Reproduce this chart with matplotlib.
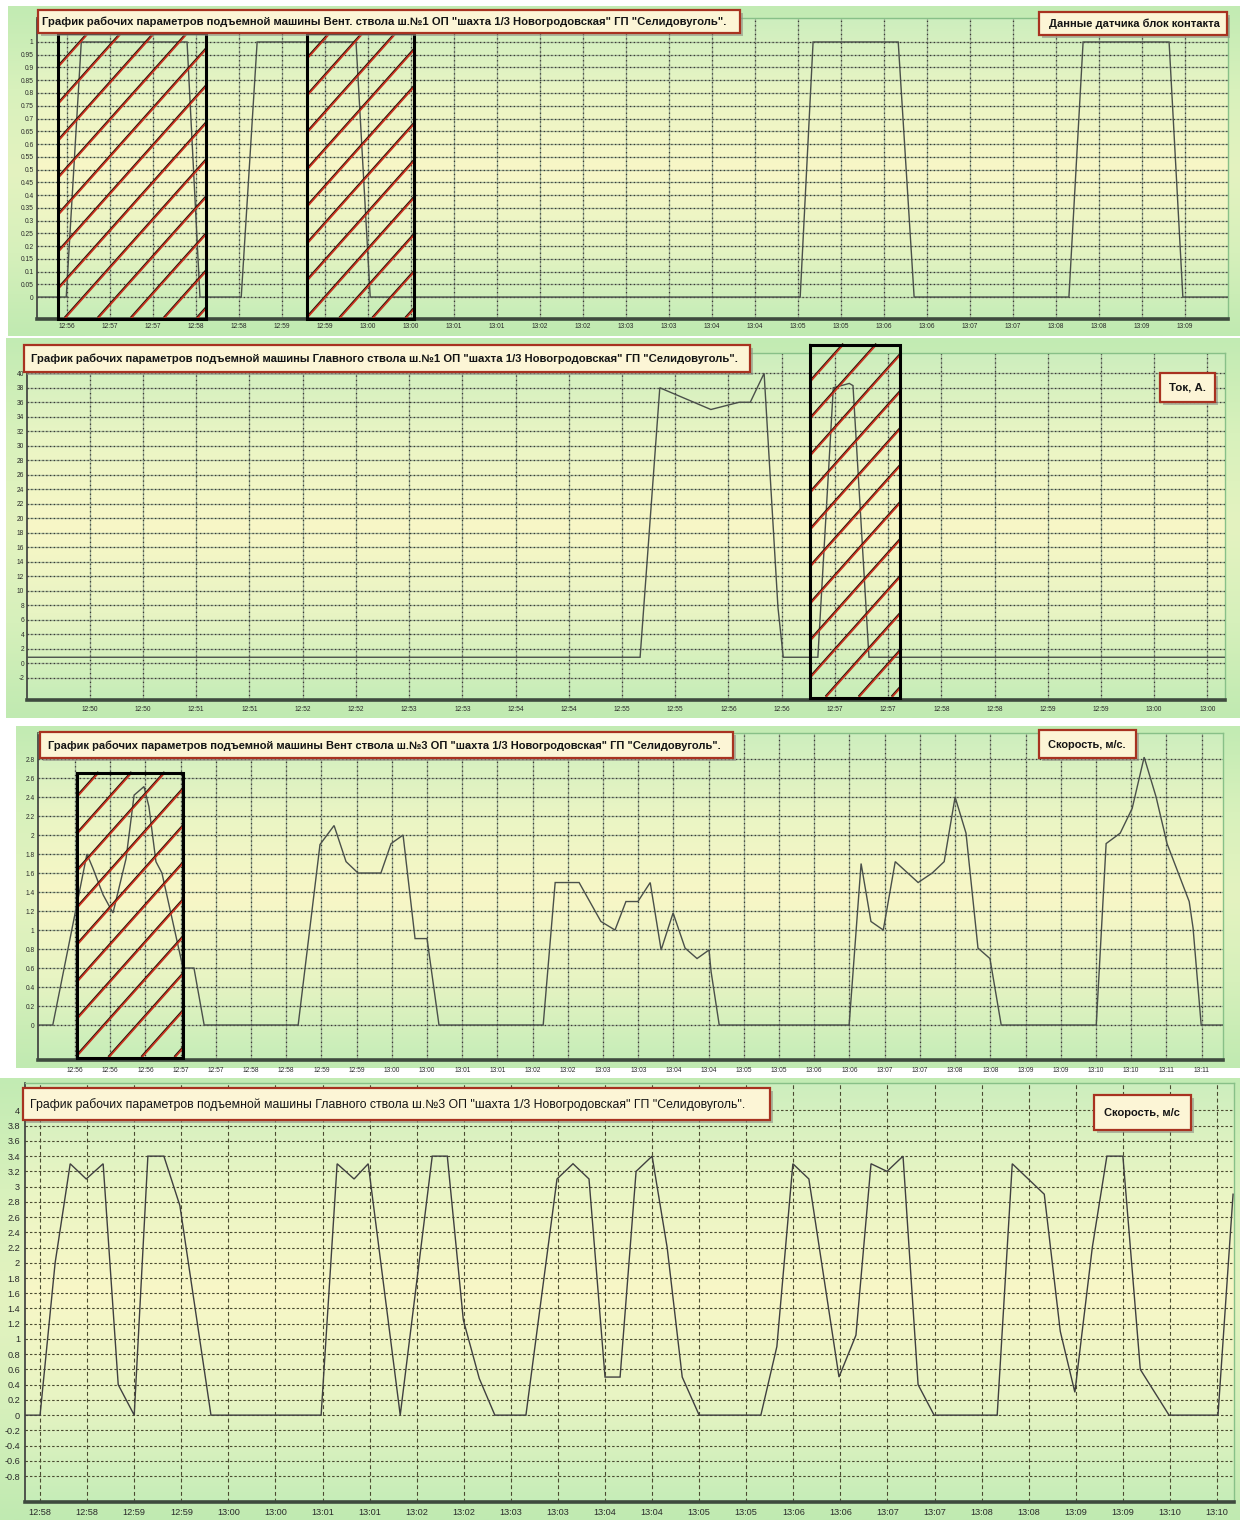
import numpy as np
import matplotlib
matplotlib.use('Agg')
import matplotlib.pyplot as plt
from matplotlib.patches import Rectangle
from matplotlib.colors import LinearSegmentedColormap

plt.rcParams['font.family'] = ['Liberation Sans Narrow', 'Liberation Sans', 'DejaVu Sans']
plt.rcParams['axes.unicode_minus'] = False

W, H = 1240, 1520

# ------------------------------------------------------------------ data
# x values are given in tick-index units (tick i carries xlabels[i])

# Panel 1 - Вент. ствол ш.№1, блок-контакт
p1_title = 'График рабочих параметров подъемной машины Вент. ствола ш.№1 ОП "шахта 1/3 Новогродовская" ГП "Селидовуголь".'
p1_legend = 'Данные датчика блок контакта'
p1_xlabels = ['12:56', '12:57', '12:57', '12:58', '12:58', '12:59', '12:59', '13:00', '13:00',
              '13:01', '13:01', '13:02', '13:02', '13:03', '13:03', '13:04', '13:04', '13:05',
              '13:05', '13:06', '13:06', '13:07', '13:07', '13:08', '13:08', '13:09', '13:09']
p1_yticks = [0, 0.05, 0.1, 0.15, 0.2, 0.25, 0.3, 0.35, 0.4, 0.45, 0.5, 0.55, 0.6, 0.65,
             0.7, 0.75, 0.8, 0.85, 0.9, 0.95, 1]
p1_t = [-0.70, -0.02, 0.33, 2.79, 3.09, 4.05, 4.42, 6.72, 7.05, 17.05, 17.35, 19.33, 19.70,
        23.30, 23.63, 25.63, 25.95, 27.00]
p1_v = [0, 0, 1, 1, 0, 0, 1, 1, 0, 0, 1, 1, 0, 0, 1, 1, 0, 0]
p1_marked = [(-0.20, 3.22), (5.59, 8.07)]

# Panel 2 - Главный ствол ш.№1, ток
p2_title = 'График рабочих параметров подъемной машины Главного ствола ш.№1 ОП "шахта 1/3 Новогродовская" ГП "Селидовуголь".'
p2_legend = 'Ток, А.'
p2_xlabels = ['12:50', '12:50', '12:51', '12:51', '12:52', '12:52', '12:53', '12:53', '12:54',
              '12:54', '12:55', '12:55', '12:56', '12:56', '12:57', '12:57', '12:58', '12:58',
              '12:59', '12:59', '13:00', '13:00']
p2_yticks = [-2, 0, 2, 4, 6, 8, 10, 12, 14, 16, 18, 20, 22, 24, 26, 28, 30, 32, 34, 36, 38, 40]
p2_t = [-1.18, 10.34, 10.71, 11.67, 12.20, 12.41, 12.67, 12.93, 13.03, 13.68, 13.97, 14.27,
        14.34, 14.64, 21.33]
p2_v = [0.8, 0.8, 38, 35, 36, 36, 40, 7.7, 0.8, 0.8, 38, 38.6, 38.3, 0.8, 0.8]
p2_marked = [(13.53, 15.23)]

# Panel 3 - Вент. ствол ш.№3, скорость
p3_title = 'График рабочих параметров подъемной машины Вент ствола ш.№3 ОП "шахта 1/3 Новогродовская" ГП "Селидовуголь".'
p3_legend = 'Скорость, м/с.'
p3_xlabels = ['12:56', '12:56', '12:56', '12:57', '12:57', '12:58', '12:58', '12:59', '12:59',
              '13:00', '13:00', '13:01', '13:01', '13:02', '13:02', '13:03', '13:03', '13:04',
              '13:04', '13:05', '13:05', '13:06', '13:06', '13:07', '13:07', '13:08', '13:08',
              '13:09', '13:09', '13:10', '13:10', '13:11', '13:11']
p3_yticks = [0, 0.2, 0.4, 0.6, 0.8, 1, 1.2, 1.4, 1.6, 1.8, 2, 2.2, 2.4, 2.6, 2.8]
p3_t = [-1.05, -0.63, 0.34, 0.51, 0.80, 1.08, 1.45, 1.68, 1.96, 2.10, 2.30, 2.47, 3.07, 3.38,
        3.67, 6.34, 6.96, 7.36, 7.70, 8.04, 8.69, 8.98, 9.32, 9.66, 10.00, 10.34, 13.30, 13.64,
        14.32, 14.94, 15.34, 15.65, 15.99, 16.34, 16.65, 16.99, 17.33, 17.67, 18.01, 18.07,
        18.30, 21.99, 22.33, 22.61, 22.96, 23.30, 23.95, 24.35, 24.69, 25.00, 25.31, 25.65,
        25.99, 26.31, 29.01, 29.29, 29.69, 30.03, 30.37, 30.71, 31.02, 31.65, 31.76, 31.99, 32.61]
p3_v = [0, 0, 1.8, 1.65, 1.37, 1.18, 1.75, 2.42, 2.51, 2.3, 1.72, 1.6, 0.6, 0.6, 0, 0, 1.9,
        2.1, 1.72, 1.6, 1.6, 1.91, 2.0, 0.91, 0.91, 0, 0, 1.5, 1.5, 1.09, 1.0, 1.3, 1.3, 1.5,
        0.79, 1.18, 0.81, 0.70, 0.79, 0.56, 0, 0, 1.7, 1.09, 1.0, 1.72, 1.5, 1.6, 1.72, 2.4,
        2.02, 0.81, 0.70, 0, 0, 1.91, 2.02, 2.28, 2.82, 2.4, 1.91, 1.3, 1.02, 0, 0]
p3_marked = [(0.06, 3.07)]

# Panel 4 - Главный ствол ш.№3, скорость
p4_title = 'График рабочих параметров подъемной машины Главного ствола ш.№3 ОП "шахта 1/3 Новогродовская" ГП "Селидовуголь".'
p4_legend = 'Скорость, м/с'
p4_xlabels = ['12:58', '12:58', '12:59', '12:59', '13:00', '13:00', '13:01', '13:01', '13:02',
              '13:02', '13:03', '13:03', '13:04', '13:04', '13:05', '13:05', '13:06', '13:06',
              '13:07', '13:07', '13:08', '13:08', '13:09', '13:09', '13:10', '13:10']
p4_yticks = [-0.8, -0.6, -0.4, -0.2, 0, 0.2, 0.4, 0.6, 0.8, 1, 1.2, 1.4, 1.6, 1.8, 2, 2.2,
             2.4, 2.6, 2.8, 3, 3.2, 3.4, 3.6, 3.8, 4]
p4_t = [-0.32, 0.00, 0.32, 0.64, 0.98, 1.34, 1.66, 2.00, 2.29, 2.63, 2.97, 3.63, 5.97, 6.31,
        6.67, 6.97, 7.65, 8.33, 8.65, 8.99, 9.33, 9.66, 10.32, 10.98, 11.32, 11.66, 12.00,
        12.32, 12.66, 13.00, 13.32, 13.64, 14.00, 15.31, 15.65, 15.99, 16.33, 16.97, 17.33,
        17.65, 17.99, 18.33, 18.65, 18.99, 20.33, 20.65, 21.33, 21.67, 21.98, 22.35, 22.66,
        23.00, 23.37, 23.98, 25.02, 25.34]
p4_v = [0, 0, 2.0, 3.3, 3.1, 3.3, 0.4, 0, 3.4, 3.4, 2.75, 0, 0, 3.3, 3.1, 3.3, 0, 3.4, 3.4,
        1.25, 0.48, 0, 0, 3.1, 3.3, 3.1, 0.5, 0.5, 3.2, 3.4, 2.2, 0.5, 0, 0, 0.9, 3.3, 3.1,
        0.5, 1.05, 3.3, 3.2, 3.4, 0.4, 0, 0, 3.3, 2.9, 1.1, 0.3, 2.2, 3.4, 3.4, 0.6, 0, 0, 2.9]
p4_marked = []

# ------------------------------------------------------------------ layout (pixels)
panels = [
    dict(title=p1_title, legend=p1_legend, xl=p1_xlabels, yt=p1_yticks, t=p1_t, v=p1_v,
         marked=p1_marked, mark_y=(-0.086, 1.035),
         bg=(8, 6, 1240, 336), ax=(37, 18, 1228, 319), xlim=(-0.70, 27.0), ylim=(-0.086, 1.094),
         tbox=(38, 10, 740, 33, 42, 729), lbox=(1039, 12, 1227, 35, 1049, 1221),
         fs=4.8, xpad=3.0, ypad=2.5, small=True, bold=True),
    dict(title=p2_title, legend=p2_legend, xl=p2_xlabels, yt=p2_yticks, t=p2_t, v=p2_v,
         marked=p2_marked, mark_y=(-4.8, 43.9),
         bg=(6, 338, 1240, 718), ax=(27, 353, 1225, 700), xlim=(-1.18, 21.33), ylim=(-5.1, 42.8),
         tbox=(24, 345, 750, 372, 31, 740), lbox=(1160, 373, 1215, 402, 1169, 1206),
         fs=4.8, xpad=4.0, ypad=2.0, small=True, bold=True),
    dict(title=p3_title, legend=p3_legend, xl=p3_xlabels, yt=p3_yticks, t=p3_t, v=p3_v,
         marked=p3_marked, mark_y=(-0.35, 2.65),
         bg=(16, 726, 1240, 1068), ax=(38, 733, 1223, 1060), xlim=(-1.05, 32.61), ylim=(-0.368, 3.074),
         tbox=(40, 732, 733, 758, 48, 723), lbox=(1039, 730, 1136, 758, 1048, 1126),
         fs=4.8, xpad=5.0, ypad=2.5, small=True, bold=True),
    dict(title=p4_title, legend=p4_legend, xl=p4_xlabels, yt=p4_yticks, t=p4_t, v=p4_v,
         marked=p4_marked, mark_y=(0, 0),
         bg=(0, 1078, 1240, 1520), ax=(25, 1083, 1234, 1502), xlim=(-0.32, 25.36), ylim=(-1.14, 4.36),
         tbox=(23, 1088, 770, 1120, 30, 750), lbox=(1094, 1095, 1191, 1130, 1104, 1180),
         fs=6.6, xpad=4.5, ypad=3.6, small=False, bold=False),
]

cm_plot = LinearSegmentedColormap.from_list('plot', ['#cdeebe', '#eaf5c4', '#f8f7c7', '#e8f4c3', '#c6edb8'])
cm_bg = LinearSegmentedColormap.from_list('bg', ['#c2ebb3', '#d8f1bc', '#e4f3c0', '#d6f0bb', '#c0eab1'])
grad = np.linspace(0, 1, 256).reshape(-1, 1)

fig = plt.figure(figsize=(W / 100, H / 100), dpi=100)
fig.patch.set_facecolor('white')


def fig_rect(x0, y0, x1, y1):
    return [x0 / W, 1 - y1 / H, (x1 - x0) / W, (y1 - y0) / H]


def hatch(ax, t0, t1, v0, v1, spacing=37.0, slope=1.12):
    tr = ax.transData
    (X0, Y0), (X1, Y1) = tr.transform([(t0, v0), (t1, v1)])
    inv = tr.inverted()
    cs = np.arange(-slope * (X1 - X0) + 10, (Y1 - Y0), spacing)
    for c in cs:
        xa = max(X0, X0 - c / slope)
        xb = min(X1, X0 + (Y1 - Y0 - c) / slope)
        if xb <= xa:
            continue
        for dy, col, lw in ((1.6, '#2a1208', 1.0), (0.0, '#c8301e', 1.2)):
            pa = (xa, Y0 + c + slope * (xa - X0))
            pb = (xb, Y0 + c + slope * (xb - X0))
            d = inv.transform([(pa[0], pa[1] + dy), (pb[0], pb[1] + dy)])
            ax.plot(d[:, 0], d[:, 1], color=col, lw=lw, zorder=5, clip_on=False,
                    solid_capstyle='butt')


def label_box(x0, y0, x1, y1, tx0, tx1, text, bold):
    fig.add_artist(Rectangle(((x0 + 3) / W, 1 - (y1 + 3) / H), (x1 - x0) / W, (y1 - y0) / H,
                             transform=fig.transFigure, fc='#8e8e84', ec='none', alpha=0.6, zorder=20))
    fig.add_artist(Rectangle((x0 / W, 1 - y1 / H), (x1 - x0) / W, (y1 - y0) / H,
                             transform=fig.transFigure, fc='#fcf5d6', ec='#a83220', lw=1.6, zorder=21))
    t = fig.text(tx0 / W, 1 - ((y0 + y1) / 2 + 0.5) / H, text, ha='left', va='center',
                 fontsize=8, color='#141414', zorder=22,
                 fontweight='bold' if bold else 'normal')
    r = fig.canvas.get_renderer()
    w = t.get_window_extent(r).width
    t.set_fontsize(8 * (tx1 - tx0) / w)


for P in panels:
    bgax = fig.add_axes(fig_rect(*P['bg']))
    bgax.imshow(grad, cmap=cm_bg, aspect='auto', extent=[0, 1, 0, 1])
    bgax.set_axis_off()

    ax = fig.add_axes(fig_rect(*P['ax']))
    ax.set_xlim(*P['xlim'])
    ax.set_ylim(*P['ylim'])
    ax.patch.set_visible(False)
    ax.imshow(grad, cmap=cm_plot, aspect='auto', zorder=0,
              extent=[P['xlim'][0], P['xlim'][1], P['ylim'][0], P['ylim'][1]])
    ax.set_xlim(*P['xlim'])
    ax.set_ylim(*P['ylim'])

    xt = np.arange(len(P['xl']))
    if P['small']:
        for x in xt:
            ax.axvline(x, color='#9fb098', lw=0.9, zorder=1)
            ax.axvline(x, color='#3a3a32', lw=0.9, dashes=(1, 2.5), zorder=1.1)
        for y in P['yt']:
            ax.axhline(y, color='#a2b49a', lw=0.9, zorder=1)
            ax.axhline(y, color='#3a3a32', lw=0.9, dashes=(1, 2), zorder=1.1)
    else:
        for x in xt:
            ax.axvline(x, color='#4a4a30', lw=0.8, dashes=(3.5, 2.5), zorder=1)
        for y in P['yt']:
            ax.axhline(y, color='#4a4a30', lw=0.8, dashes=(2.2, 1.8), zorder=1)

    ax.plot(P['t'], P['v'], color='#4a504a' if P['small'] else '#404040',
            lw=1.0, zorder=3, solid_joinstyle='miter')

    for (t0, t1) in P['marked']:
        v0, v1 = P['mark_y']
        hatch(ax, t0, t1, v0, v1)
        ax.add_patch(Rectangle((t0, v0), t1 - t0, v1 - v0, fill=False, ec='black', lw=2.2,
                               zorder=6, clip_on=False))

    ax.set_xticks(xt)
    ax.set_xticklabels(P['xl'])
    ax.set_yticks(P['yt'])
    ax.set_yticklabels([f'{y:g}' for y in P['yt']])
    ax.tick_params(axis='both', length=0, labelsize=P['fs'], colors='#2a2a2a')
    ax.tick_params(axis='x', pad=P['xpad'])
    ax.tick_params(axis='y', pad=P['ypad'])

    ax.spines['left'].set_color('#3a3a3a')
    ax.spines['left'].set_linewidth(1.2)
    ax.spines['bottom'].set_color('#3e4a3e')
    ax.spines['bottom'].set_linewidth(2.6)
    for s in ('top', 'right'):
        ax.spines[s].set_color('#88c088')
        ax.spines[s].set_linewidth(1.0)

    label_box(*P['tbox'][:4], P['tbox'][4], P['tbox'][5], P['title'], P['bold'])
    label_box(*P['lbox'][:4], P['lbox'][4], P['lbox'][5], P['legend'], True)

fig.savefig('out.png', dpi=100)
